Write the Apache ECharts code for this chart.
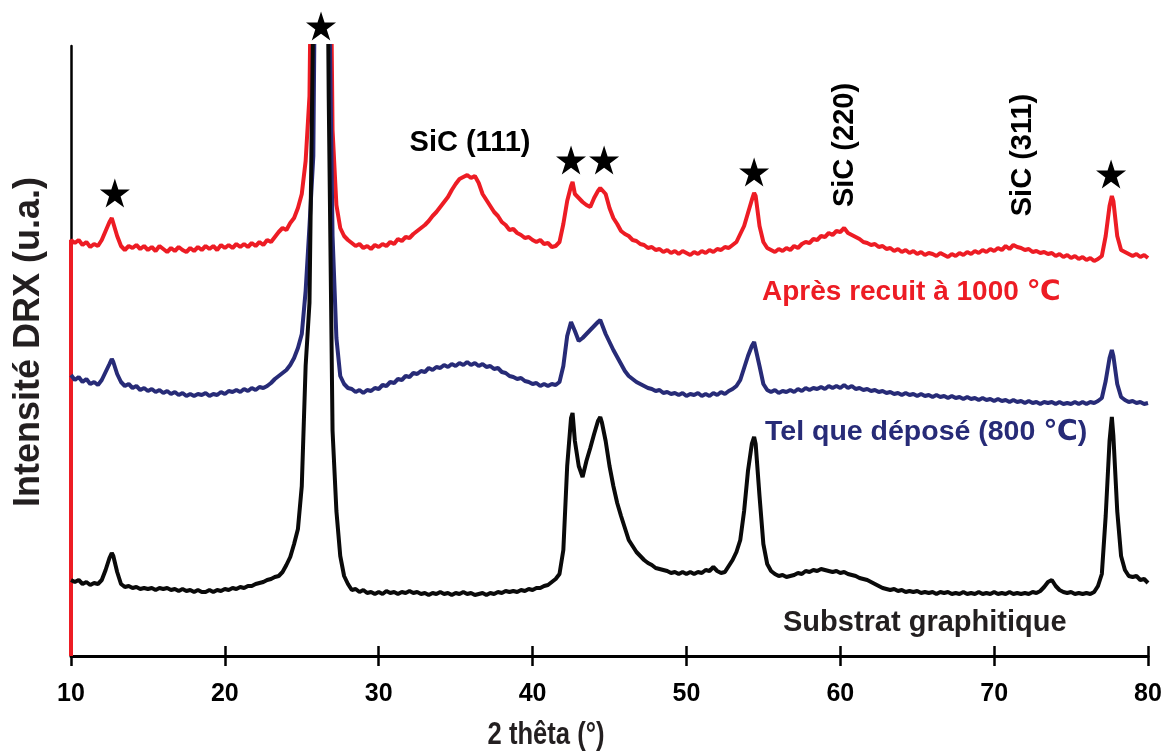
<!DOCTYPE html>
<html>
<head>
<meta charset="utf-8">
<script src="https://cdn.jsdelivr.net/npm/echarts@6/dist/echarts.min.js"></script>
<style>
html,body{margin:0;padding:0;background:#fff;}
#chart{width:1169px;height:753px;}
</style>
</head>
<body>
<div id="chart"></div>
<script>
// X tick labels (2θ, degrees)
const xTicks = [10, 20, 30, 40, 50, 60, 70, 80];

// Series values: [2θ (°), intensity (a.u., stacked offset)]
const redAnnealed = [
[10,0],[10,416],[10.25,413],[10.5,416],[10.75,411],[11,414],[11.25,409],[11.5,412],[11.75,410],[12,416],[12.25,425],[12.5,434],[12.65,438],[12.75,436],[13,420],[13.25,410],[13.5,406],[13.75,410],
[14,408],[14.25,411],[14.5,407],[14.75,410],[15,406],[15.25,409],[15.5,405],[15.75,410],[16,407],[16.25,404],[16.5,408],[16.75,405],[17,409],[17.25,406],[17.5,404],[17.75,408],[18,405],[18.25,409],[18.5,406],[18.75,410],
[19,407],[19.25,410],[19.5,406],[19.75,411],[20,408],[20.25,411],[20.5,408],[20.75,412],[21,409],[21.25,412],[21.5,409],[21.75,413],[22,410],[22.25,414],[22.5,411],[22.75,416],[23,414],[23.25,419],[23.5,424],[23.75,428],
[24,426],[24.25,433],[24.5,438],[24.75,448],[25,462],[25.25,495],[25.5,560],[25.75,900],[26,1000],[26.25,1050],[26.5,1000],[26.75,900],[27,526],[27.25,451],[27.5,428],[27.75,420],[28,416],[28.25,413],[28.5,410],[28.75,412],
[29,408],[29.25,410],[29.5,407],[29.75,411],[30,409],[30.25,412],[30.5,410],[30.75,414],[31,412],[31.25,417],[31.5,415],[31.75,419],[32,418],[32.25,422],[32.5,425],[32.75,428],[33,431],[33.25,435],[33.5,440],[33.75,444],
[34,449],[34.25,454],[34.5,459],[34.75,466],[35,472],[35.25,477],[35.5,479],[35.75,481],[36,478],[36.25,480],[36.5,473],[36.75,462],[37,456],[37.25,450],[37.5,444],[37.75,440],[38,434],[38.25,431],[38.5,426],[38.75,427],
[39,423],[39.25,421],[39.5,418],[39.75,419],[40,416],[40.25,414],[40.5,416],[40.75,412],[41,413],[41.25,409],[41.5,410],[41.75,414],[42,432],[42.25,455],[42.5,470],[42.6,474],[42.75,462],[43,458],[43.25,454],[43.5,451],[43.75,449],
[44,458],[44.25,465],[44.4,468],[44.5,466],[44.75,462],[45,448],[45.25,438],[45.5,432],[45.75,425],[46,422],[46.25,420],[46.5,416],[46.75,415],[47,412],[47.25,411],[47.5,408],[47.75,409],[48,406],[48.25,407],[48.5,404],[48.75,406],
[49,403],[49.25,405],[49.5,402],[49.75,405],[50,403],[50.25,401],[50.5,404],[50.75,402],[51,405],[51.25,403],[51.5,406],[51.75,404],[52,407],[52.25,406],[52.5,409],[52.75,408],[53,411],[53.25,414],[53.5,422],[53.75,430],
[54,443],[54.25,456],[54.4,463],[54.5,460],[54.75,430],[55,414],[55.25,408],[55.5,406],[55.75,404],[56,407],[56.25,405],[56.5,408],[56.75,406],[57,410],[57.25,408],[57.5,412],[57.75,414],[58,413],[58.25,417],[58.5,416],[58.75,420],
[59,419],[59.25,423],[59.5,421],[59.75,425],[60,424],[60.25,428],[60.5,423],[60.75,421],[61,419],[61.25,417],[61.5,414],[61.75,413],[62,411],[62.25,412],[62.5,409],[62.75,410],[63,407],[63.25,408],[63.5,405],[63.75,407],
[64,404],[64.25,406],[64.5,403],[64.75,405],[65,402],[65.25,404],[65.5,401],[65.75,403],[66,402],[66.25,400],[66.5,403],[66.75,401],[67,399],[67.25,402],[67.5,400],[67.75,403],[68,401],[68.25,404],[68.5,402],[68.75,405],
[69,403],[69.25,406],[69.5,404],[69.75,407],[70,405],[70.25,408],[70.5,406],[70.75,410],[71,407],[71.25,411],[71.5,409],[71.75,408],[72,406],[72.25,407],[72.5,404],[72.75,405],[73,403],[73.25,404],[73.5,402],[73.75,403],
[74,400],[74.25,402],[74.5,399],[74.75,401],[75,398],[75.25,400],[75.5,397],[75.75,399],[76,396],[76.25,398],[76.5,395],[76.75,397],[77,400],[77.25,420],[77.5,450],[77.65,460],[77.75,455],[78,420],[78.25,406],[78.5,404],
[78.75,402],[79,400],[79.25,402],[79.5,399],[79.75,401],[80,398]
];

const blueAsDeposited = [
[10,281],[10.25,276],[10.5,279],[10.75,274],[11,277],[11.25,272],[11.5,274],[11.75,271],[12,276],[12.25,284],[12.5,292],[12.65,297],[12.75,294],[13,282],[13.25,274],[13.5,270],[13.75,272],
[14,268],[14.25,270],[14.5,266],[14.75,268],[15,265],[15.25,267],[15.5,264],[15.75,266],[16,263],[16.25,265],[16.5,262],[16.75,264],[17,261],[17.25,263],[17.5,260],[17.75,262],[18,260],[18.25,262],[18.5,261],[18.75,263],
[19,260],[19.25,262],[19.5,261],[19.75,264],[20,262],[20.25,265],[20.5,264],[20.75,266],[21,264],[21.25,267],[21.5,265],[21.75,268],[22,266],[22.25,269],[22.5,268],[22.75,270],[23,273],[23.25,277],[23.5,280],[23.75,283],
[24,286],[24.25,291],[24.5,298],[24.75,308],[25,322],[25.25,365],[25.5,430],[25.75,500],[26,950],[26.25,1000],[26.5,950],[26.75,700],[27,420],[27.25,318],[27.5,280],[27.75,272],[28,268],[28.25,267],[28.5,264],[28.75,266],
[29,263],[29.25,266],[29.5,265],[29.75,268],[30,267],[30.25,271],[30.5,270],[30.75,274],[31,273],[31.25,277],[31.5,276],[31.75,280],[32,279],[32.25,283],[32.5,282],[32.75,285],[33,284],[33.25,288],[33.5,286],[33.75,289],
[34,288],[34.25,291],[34.5,289],[34.75,292],[35,290],[35.25,293],[35.5,291],[35.75,294],[36,291],[36.25,293],[36.5,290],[36.75,292],[37,289],[37.25,290],[37.5,287],[37.75,288],[38,284],[38.25,283],[38.5,280],[38.75,279],
[39,277],[39.25,278],[39.5,275],[39.75,274],[40,272],[40.25,273],[40.5,270],[40.75,272],[41,270],[41.25,272],[41.5,271],[41.75,274],[42,290],[42.25,320],[42.5,334],[42.6,336],[42.75,325],[43,315],[43.25,318],[43.5,322],[43.75,326],
[44,330],[44.25,334],[44.4,336],[44.5,332],[44.75,322],[45,314],[45.25,306],[45.5,299],[45.75,292],[46,285],[46.25,280],[46.5,277],[46.75,274],[47,272],[47.25,270],[47.5,268],[47.75,267],[48,265],[48.25,266],[48.5,263],[48.75,264],
[49,262],[49.25,263],[49.5,261],[49.75,263],[50,260],[50.25,262],[50.5,261],[50.75,263],[51,260],[51.25,262],[51.5,260],[51.75,263],[52,261],[52.25,264],[52.5,262],[52.75,265],[53,267],[53.25,270],[53.5,276],[53.75,288],
[54,300],[54.25,310],[54.4,314],[54.5,312],[54.75,290],[55,272],[55.25,266],[55.5,264],[55.75,266],[56,263],[56.25,265],[56.5,264],[56.75,266],[57,264],[57.25,267],[57.5,265],[57.75,268],[58,266],[58.25,268],[58.5,267],[58.75,269],
[59,267],[59.25,270],[59.5,268],[59.75,270],[60,268],[60.25,271],[60.5,268],[60.75,270],[61,267],[61.25,268],[61.5,266],[61.75,267],[62,265],[62.25,266],[62.5,264],[62.75,265],[63,263],[63.25,264],[63.5,262],[63.75,263],
[64,261],[64.25,263],[64.5,261],[64.75,262],[65,260],[65.25,262],[65.5,260],[65.75,261],[66,259],[66.25,261],[66.5,259],[66.75,260],[67,258],[67.25,260],[67.5,258],[67.75,259],[68,257],[68.25,259],[68.5,257],[68.75,258],
[69,256],[69.25,258],[69.5,256],[69.75,257],[70,255],[70.25,257],[70.5,255],[70.75,256],[71,254],[71.25,256],[71.5,254],[71.75,255],[72,253],[72.25,255],[72.5,253],[72.75,254],[73,252],[73.25,254],[73.5,253],[73.75,254],
[74,252],[74.25,254],[74.5,252],[74.75,253],[75,252],[75.25,254],[75.5,252],[75.75,254],[76,252],[76.25,254],[76.5,253],[76.75,255],[77,258],[77.25,275],[77.5,298],[77.65,306],[77.75,300],[78,272],[78.25,259],[78.5,256],
[78.75,254],[79,255],[79.25,253],[79.5,254],[79.75,252],[80,253]
];

const blackSubstrate = [
[10,76],[10.25,74],[10.5,76],[10.75,72],[11,74],[11.25,71],[11.5,73],[11.75,72],[12,76],[12.25,86],[12.5,98],[12.65,103],[12.75,100],[13,84],[13.25,72],[13.5,69],[13.75,70],
[14,68],[14.25,69],[14.5,67],[14.75,68],[15,67],[15.25,68],[15.5,66],[15.75,68],[16,67],[16.25,68],[16.5,66],[16.75,67],[17,65],[17.25,67],[17.5,65],[17.75,66],[18,64],[18.25,66],[18.5,64],[18.75,64],
[19,66],[19.25,64],[19.5,66],[19.75,65],[20,67],[20.25,66],[20.5,68],[20.75,67],[21,69],[21.25,68],[21.5,70],[21.75,70],[22,72],[22.25,73],[22.5,74],[22.75,76],[23,77],[23.25,79],[23.5,80],[23.75,84],
[24,91],[24.25,99],[24.5,112],[24.75,127],[25,170],[25.25,290],[25.5,353],[25.75,650],[26,1000],[26.25,1100],[26.5,1050],[26.75,560],[27,225],[27.25,145],[27.5,100],[27.75,80],[28,72],[28.25,66],[28.5,67],[28.75,64],
[29,66],[29.25,63],[29.5,64],[29.75,62],[30,64],[30.25,62],[30.5,65],[30.75,63],[31,64],[31.25,62],[31.5,64],[31.75,63],[32,65],[32.25,63],[32.5,64],[32.75,62],[33,63],[33.25,61],[33.5,63],[33.75,62],
[34,64],[34.25,62],[34.5,63],[34.75,61],[35,63],[35.25,62],[35.5,64],[35.75,62],[36,63],[36.25,61],[36.5,62],[36.75,63],[37,61],[37.25,63],[37.5,62],[37.75,64],[38,63],[38.25,65],[38.5,64],[38.75,65],
[39,64],[39.25,66],[39.5,65],[39.75,67],[40,66],[40.25,68],[40.5,68],[40.75,70],[41,71],[41.25,74],[41.5,77],[41.75,82],[42,106],[42.25,190],[42.5,238],[42.6,243],[42.75,215],[43,190],[43.25,179],[43.5,195],[43.75,208],
[44,222],[44.25,235],[44.4,239],[44.5,234],[44.75,215],[45,190],[45.25,170],[45.5,153],[45.75,140],[46,128],[46.25,116],[46.5,110],[46.75,104],[47,100],[47.25,96],[47.5,93],[47.75,91],[48,88],[48.25,87],[48.5,86],[48.75,85],
[49,83],[49.25,84],[49.5,82],[49.75,84],[50,82],[50.25,84],[50.5,82],[50.75,84],[51,83],[51.25,86],[51.5,85],[51.75,89],[52,85],[52.25,83],[52.5,84],[52.75,90],[53,96],[53.25,104],[53.5,116],[53.75,145],
[54,185],[54.25,212],[54.4,219],[54.5,212],[54.75,160],[55,112],[55.25,92],[55.5,85],[55.75,82],[56,80],[56.25,81],[56.5,79],[56.75,80],[57,81],[57.25,83],[57.5,82],[57.75,85],[58,84],[58.25,86],[58.5,85],[58.75,87],
[59,86],[59.25,85],[59.5,84],[59.75,85],[60,83],[60.25,84],[60.5,82],[60.75,81],[61,80],[61.25,78],[61.5,77],[61.75,76],[62,74],[62.25,72],[62.5,70],[62.75,68],[63,67],[63.25,66],[63.5,67],[63.75,65],
[64,66],[64.25,64],[64.5,65],[64.75,64],[65,65],[65.25,63],[65.5,64],[65.75,63],[66,64],[66.25,62],[66.5,64],[66.75,63],[67,64],[67.25,62],[67.5,63],[67.75,62],[68,64],[68.25,62],[68.5,63],[68.75,62],
[69,64],[69.25,62],[69.5,63],[69.75,62],[70,64],[70.25,62],[70.5,63],[70.75,62],[71,64],[71.25,62],[71.5,63],[71.75,62],[72,63],[72.25,62],[72.5,64],[72.75,63],[73,65],[73.25,69],[73.5,74],[73.75,76],
[74,70],[74.25,66],[74.5,64],[74.75,63],[75,64],[75.25,62],[75.5,63],[75.75,62],[76,63],[76.25,62],[76.5,64],[76.75,70],[77,82],[77.25,140],[77.5,215],[77.65,239],[77.75,220],[78,145],[78.25,100],[78.5,86],
[78.75,80],[79,79],[79.25,80],[79.5,76],[79.75,77],[80,73]
];

// Peak markers (★): [2θ, height]
const starMarks = [[12.85,463],[26.25,630],[42.5,496],[44.65,496],[54.4,484],[77.6,482]];

const seriesNames = ['Après recuit à 1000 ℃', 'Tel que déposé (800 ℃)', 'Substrat graphitique'];
const phaseLabels = ['SiC (111)', 'SiC (220)', 'SiC (311)'];
const axisTitles = {x: '2 thêta (°)', y: 'Intensité DRX (u.a.)'};

const RED = '#ED1C24', NAVY = '#272B77', BLACK = '#0A0A0A';
const FONT = '"Liberation Sans", Arial, "DejaVu Sans", sans-serif';
const STAR = 'path://M50 0L61.2 34.5L97.6 34.5L68.2 55.9L79.4 90.5L50 69.1L20.6 90.5L31.8 55.9L2.4 34.5L38.8 34.5Z';

const chart = echarts.init(document.getElementById('chart'), null, {renderer: 'canvas'});

function lineSeries(name, data, color) {
  return {
    name: name, type: 'line', data: data, showSymbol: false, symbol: 'none',
    clip: true, lineStyle: {color: color, width: 4}, itemStyle: {color: color},
    emphasis: {disabled: true}
  };
}

const option = {
  animation: false,
  backgroundColor: '#ffffff',
  grid: {left: 71, right: 21, top: 46, bottom: 97, containLabel: false},
  xAxis: [
    {
      type: 'value', min: xTicks[0], max: xTicks[xTicks.length - 1], interval: 10, position: 'bottom',
      axisLine: {show: true, onZero: false, lineStyle: {color: '#000', width: 3}},
      axisTick: {show: true, length: 10, lineStyle: {color: '#000', width: 2.5}},
      axisLabel: {show: true, fontSize: 25, fontWeight: 'bold', color: '#000', margin: 26, fontFamily: FONT},
      splitLine: {show: false}
    },
    {
      type: 'value', min: xTicks[0], max: xTicks[xTicks.length - 1], interval: 10, position: 'bottom',
      axisLine: {show: false, onZero: false},
      axisTick: {show: true, inside: true, length: 10, lineStyle: {color: '#000', width: 2.5}},
      axisLabel: {show: false}, splitLine: {show: false}
    }
  ],
  yAxis: {
    type: 'value', min: 0, max: 610,
    axisLine: {show: true, onZero: false, lineStyle: {color: '#000', width: 2.5}},
    axisTick: {show: false}, axisLabel: {show: false}, splitLine: {show: false},
    name: axisTitles.y, nameLocation: 'middle', nameGap: 24, nameRotate: 90,
    nameTextStyle: {fontSize: 36, fontWeight: 'bold', color: '#231F20', fontFamily: FONT, padding: [0, 0, 0, 18]}
  },
  series: [
    lineSeries(seriesNames[0], redAnnealed, RED),
    lineSeries(seriesNames[1], blueAsDeposited, NAVY),
    lineSeries(seriesNames[2], blackSubstrate, BLACK),
    {
      name: 'pics', type: 'scatter', data: starMarks, symbol: STAR, symbolSize: [30, 29],
      clip: false, z: 10, itemStyle: {color: '#000', opacity: 1}, emphasis: {disabled: true}
    }
  ],
  graphic: [
    {type: 'text', x: 546, y: 735, scaleX: 0.8, z: 20, style: {text: axisTitles.x, font: 'bold 32px ' + FONT, fill: '#231F20', align: 'center', verticalAlign: 'middle'}},
    {type: 'text', x: 762, y: 292, z: 20, style: {text: seriesNames[0], font: 'bold 28px ' + FONT, fill: RED, align: 'left', verticalAlign: 'middle'}},
    {type: 'text', x: 765, y: 432, z: 20, style: {text: seriesNames[1], font: 'bold 28.5px ' + FONT, fill: NAVY, align: 'left', verticalAlign: 'middle'}},
    {type: 'text', x: 783, y: 623, z: 20, style: {text: seriesNames[2], font: 'bold 29px ' + FONT, fill: '#231F20', align: 'left', verticalAlign: 'middle'}},
    {type: 'text', x: 470, y: 143, z: 20, style: {text: phaseLabels[0], font: 'bold 29px ' + FONT, fill: '#000', align: 'center', verticalAlign: 'middle'}},
    {type: 'text', x: 845, y: 145, z: 20, rotation: Math.PI / 2, style: {text: phaseLabels[1], font: 'bold 29px ' + FONT, fill: '#000', align: 'center', verticalAlign: 'middle'}},
    {type: 'text', x: 1023, y: 155, z: 20, rotation: Math.PI / 2, style: {text: phaseLabels[2], font: 'bold 29px ' + FONT, fill: '#000', align: 'center', verticalAlign: 'middle'}}
  ]
};
chart.setOption(option);
</script>
</body>
</html>
